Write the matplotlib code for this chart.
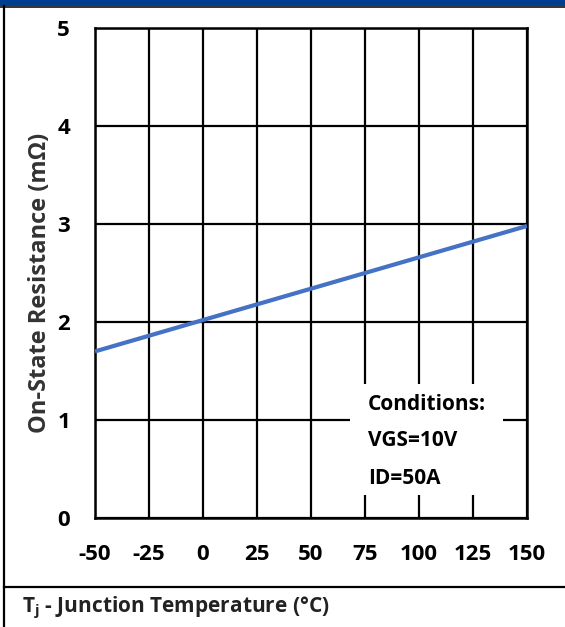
import matplotlib
matplotlib.use("Agg")
import matplotlib.pyplot as plt
from matplotlib.patches import Rectangle
from matplotlib.lines import Line2D

plt.rcParams['font.family'] = ['Open Sans', 'DejaVu Sans']
plt.rcParams['font.weight'] = 'bold'
plt.rcParams['axes.unicode_minus'] = False

temps = [-50, -25, 0, 25, 50, 75, 100, 125, 150]
resistance = [1.70, 1.86, 2.02, 2.18, 2.34, 2.50, 2.66, 2.82, 2.98]
x_ticks = [-50, -25, 0, 25, 50, 75, 100, 125, 150]
y_ticks = [0, 1, 2, 3, 4, 5]
conditions = ["Conditions:", "VGS=10V", "ID=50A"]

W, H = 565, 627
fig = plt.figure(figsize=(W / 100, H / 100), dpi=100)

# frame decorations
fig.patches.append(Rectangle((0, 1 - 6 / H), 1, 6 / H, transform=fig.transFigure,
                             facecolor='#003F8F', edgecolor='none'))
fig.lines.append(Line2D([0, 1], [1 - 7 / H, 1 - 7 / H], transform=fig.transFigure,
                        color='#111111', lw=1.2))
fig.lines.append(Line2D([3.5 / W, 3.5 / W], [0, 1 - 6 / H], transform=fig.transFigure,
                        color='black', lw=1.6))
fig.lines.append(Line2D([3.5 / W, 1], [1 - 587 / H, 1 - 587 / H], transform=fig.transFigure,
                        color='black', lw=1.6))

l, r, t, b = 95, 527, 28, 518
ax = fig.add_axes([l / W, 1 - b / H, (r - l) / W, (b - t) / H])
ax.plot(temps, resistance, color='#4472C4', lw=3, solid_capstyle='butt', zorder=3)
ax.set_xlim(-50, 150)
ax.set_ylim(0, 5)
ax.set_xticks(x_ticks)
ax.set_yticks(y_ticks)
ax.set_axisbelow(True)
ax.grid(True, color='black', lw=1.6)
for s in ax.spines.values():
    s.set_linewidth(1.8)
    s.set_color('black')
ax.tick_params(length=0, labelsize=16, colors='black')
ax.tick_params(axis='x', pad=19)
ax.tick_params(axis='y', pad=18)
for lab in ax.get_xticklabels() + ax.get_yticklabels():
    lab.set_fontweight('bold')

ax.set_ylabel('On-State Resistance (mΩ)', fontsize=17, fontweight='bold', color='#333333')
ax.yaxis.set_label_coords((40 - l) / (r - l), (b - 283) / (b - t))
ax.yaxis.label.set_va('center')

# conditions box
ax.add_patch(Rectangle((0.590, 0.047), 0.354, 0.226, transform=ax.transAxes,
                       facecolor='white', edgecolor='none', zorder=1))
ys = [405, 441, 479]
for txt, yy in zip(conditions, ys):
    ax.text((368 - l) / (r - l), (b - yy) / (b - t), txt, transform=ax.transAxes,
            fontsize=15, fontweight='bold', va='center', ha='left', zorder=4)

fig.text(22 / W, 1 - 608 / H, r'T$_\mathregular{j}$ - Junction Temperature (°C)',
         fontsize=15, fontweight='bold', va='center', ha='left', color='#222222')

fig.savefig('out.png', dpi=100)
